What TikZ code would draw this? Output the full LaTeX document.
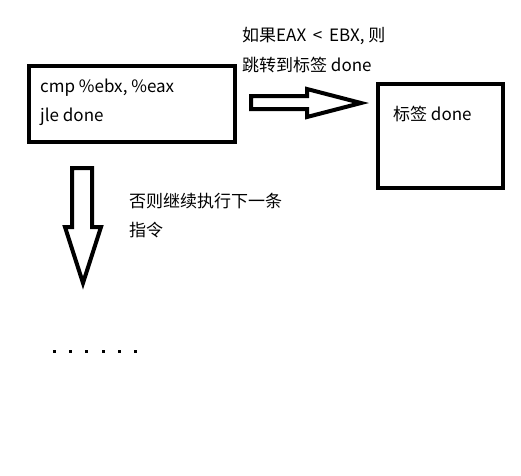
\documentclass[tikz,border=0pt]{standalone}
\usepackage{fontspec}
\setmainfont{Noto Sans CJK SC}
\tikzset{
  box/.style={draw, line width=4pt},
  blockarrow/.style={draw, line width=4pt, line join=miter},
  txt/.style={anchor=west, inner sep=0pt, font=\fontsize{17}{20}\selectfont},
}

\begin{document}
\begin{tikzpicture}[x=1pt, y=-1pt]
                    \useasboundingbox (0,0) rectangle (521,475);
                    % Instruction box
                    \draw[box] (29,66) rectangle (235,142);
                    \node[txt] (cmp) at (40,88) {cmp \%ebx, \%eax};
                    \node[txt] (jle) at (40,117) {jle done};
                    % Label box
                    \draw[box] (378,84) rectangle (503,188);
                    \node[txt] (label) at (393,114) {标签 done};
                    % Jump arrow
                    \draw[blockarrow] (251,96) -- (307,96) -- (307,89) -- (361,103) -- (307,117) -- (307,109) -- (251,109) -- cycle;
                    \node[txt] (jump1) at (242,36) {如果EAX \,<\, EBX, 则};
                    \node[txt] (jump2) at (242,65) {跳转到标签 done};
                    % Fall through arrow
                    \draw[blockarrow] (72,168) -- (92,168) -- (92,227) -- (101,227) -- (83,283) -- (65,227) -- (72,227) -- cycle;
                    \node[txt] (next1) at (129,201) {否则继续执行下一条};
                    \node[txt] (next2) at (129,230) {指令};
                    % Dots
                    \foreach \i in {0,...,5}
                      \fill (53+16.2*\i,349.5) rectangle ++(3,3);
\end{tikzpicture}
\end{document}
